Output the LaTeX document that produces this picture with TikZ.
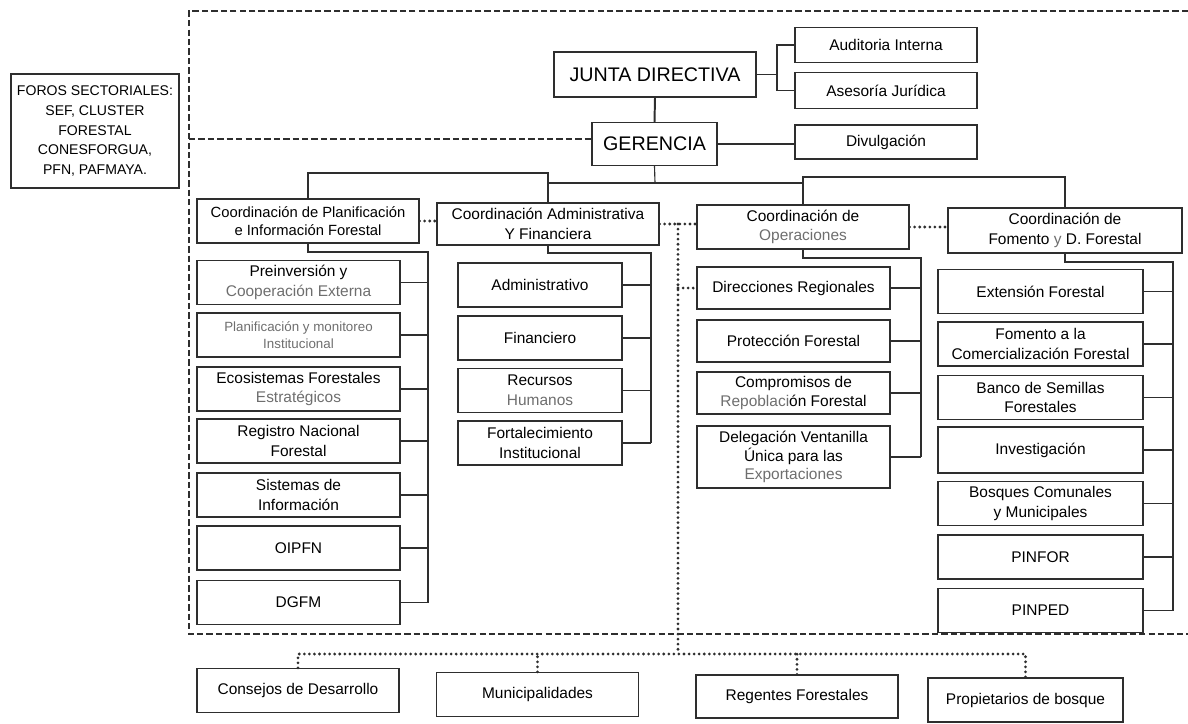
\documentclass[tikz,border=0pt]{standalone}
\usepackage{fontspec}
\setmainfont{Liberation Sans}
\usepackage{xcolor}
\usepackage{tikz}
\definecolor{OrgLine}{HTML}{2E2E2E}
\definecolor{OrgFade}{HTML}{6E6E6E}

\begin{document}
\begin{tikzpicture}[x=0.025cm,y=-0.025cm,
  box/.style={draw=OrgLine,line width=0.8pt,align=center,inner sep=1pt,font=\fontsize{11}{14}\selectfont},
  leftbox/.style={box,minimum width=5.075cm,minimum height=1.1cm},
  admbox/.style={box,minimum width=4.1cm,minimum height=1.1cm},
  opbox/.style={box,minimum width=4.825cm,minimum height=1.05cm},
  fombox/.style={box,minimum width=5.125cm,minimum height=1.1cm},
  sidebox/.style={box,minimum width=4.55cm,minimum height=0.88cm},
  basebox/.style={box,minimum width=5.05cm,minimum height=1.1cm},
  link/.style={draw=OrgLine,line width=0.8pt},
  mainlink/.style={draw=OrgLine,line width=1.4pt},
  arealine/.style={draw=OrgLine,line width=1.4pt,dash pattern=on 4.5pt off 2.2pt},
  dotline/.style={draw=OrgLine,line width=2.2pt,line cap=round,dash pattern=on 0pt off 3.6pt}]
\path[use as bounding box] (0,0) rectangle (1188,723);
% top of the chart
\node[box,minimum width=5.05cm,minimum height=1.125cm,font=\fontsize{14}{16}\selectfont] (junta) at (655,74.5) {JUNTA DIRECTIVA};
\node[sidebox] (audit) at (886,45) {Auditoria Interna};
\node[sidebox] (asesor) at (886,90.5) {Asesoría Jurídica};
\node[box,minimum width=3.125cm,minimum height=1.075cm,font=\fontsize{14}{16}\selectfont] (geren) at (654.5,144) {GERENCIA};
\node[sidebox,minimum height=0.85cm] (divul) at (886,142) {Divulgación};
\node[box,minimum width=4.2cm,minimum height=2.85cm,font=\fontsize{10}{14}\selectfont] (foros) at (95,131) {FOROS SECTORIALES:\\SEF, CLUSTER\\FORESTAL\\CONESFORGUA,\\PFN, PAFMAYA.};
% coordinaciones
\node[box,minimum width=5.55cm,minimum height=1.1cm,font=\fontsize{10.5}{13}\selectfont] (plan) at (308,221) {Coordinación de Planificación\\e Información Forestal};
\node[box,minimum width=5.55cm,minimum height=1.05cm] (admin) at (548,224) {Coordinación Administrativa\\Y Financiera};
\node[box,minimum width=5.3cm,minimum height=1.1cm] (oper) at (803,227) {Coordinación de\\{\color{OrgFade}Operaciones}};
\node[box,minimum width=5.85cm,minimum height=1.125cm] (foment) at (1065,230.5) {Coordinación de\\Fomento {\color{OrgFade}y} D. Forestal};
% planificacion column
\node[leftbox] (prein) at (298.5,282.5) {Preinversión y\\{\color{OrgFade}Cooperación Externa}};
\node[leftbox,font=\fontsize{9.5}{12}\selectfont,text=OrgFade] (planmon) at (298.5,335) {Planificación y monitoreo\\Institucional};
\node[leftbox] (ecosis) at (298.5,389) {Ecosistemas Forestales\\{\color{OrgFade}Estratégicos}};
\node[leftbox] (registro) at (298.5,441) {Registro Nacional\\Forestal};
\node[leftbox] (sistemas) at (298.5,495) {Sistemas de\\Información};
\node[leftbox] (oipfn) at (298.5,548) {OIPFN};
\node[leftbox] (dgfm) at (298.5,602.5) {DGFM};
% administrativa column
\node[admbox] (admtvo) at (540,285) {Administrativo};
\node[admbox] (financ) at (540,338) {Financiero};
\node[admbox] (rrhh) at (540,390.5) {Recursos\\{\color{OrgFade}Humanos}};
\node[admbox] (fortal) at (540,443) {Fortalecimiento\\Institucional};
% operaciones column
\node[opbox] (direcc) at (793.5,288) {Direcciones Regionales};
\node[opbox] (protec) at (793.5,341) {Protección Forestal};
\node[opbox] (comprom) at (793.5,393) {Compromisos de\\{\color{OrgFade}Repoblaci}ón Forestal};
\node[opbox,minimum height=1.55cm,font=\fontsize{11}{13}\selectfont] (delega) at (793.5,457) {Delegación Ventanilla\\Única para las\\{\color{OrgFade}Exportaciones}};
% fomento column
\node[fombox] (extens) at (1040.5,291.5) {Extensión Forestal};
\node[fombox] (fomcom) at (1040.5,344) {Fomento a la\\Comercialización Forestal};
\node[fombox] (banco) at (1040.5,397.5) {Banco de Semillas\\Forestales};
\node[fombox,minimum height=1.15cm] (investig) at (1040.5,450) {Investigación};
\node[fombox] (bosques) at (1040.5,503.5) {Bosques Comunales\\y Municipales};
\node[fombox] (pinfor) at (1040.5,557) {PINFOR};
\node[fombox] (pinped) at (1040.5,610.5) {PINPED};
% outside actors
\node[basebox] (consejos) at (298,690.5) {Consejos de Desarrollo};
\node[basebox] (munic) at (537.5,694.5) {Municipalidades};
\node[basebox,minimum height=1.075cm] (regentes) at (797,696.5) {Regentes Forestales};
\node[basebox,minimum width=4.875cm] (propiet) at (1025.5,700) {Propietarios de bosque};
% solid lines
\coordinate (jbus) at (777,74.5);
\draw[link] (junta.east) -- (jbus);
\draw[link] (audit.west) -| (jbus) |- (asesor.west);
\draw[mainlink] (junta.south) -- (geren.north);
\draw[mainlink] (geren.east) -- (geren.east -| divul.west);
\coordinate (gbus) at (655,183);
\coordinate (lbus) at (548,173);
\coordinate (rbus) at (803,177);
\draw[link] (geren.south) -- (gbus);
\draw[link] (gbus -| admin.north) -- (gbus -| oper.north);
\draw[link] (plan.north) |- (lbus) -- (admin.north);
\draw[link] (foment.north) |- (rbus) -- (oper.north);
\coordinate (planbus) at (428,252);
\draw[link] (plan.south) |- (planbus) -- (planbus |- dgfm.east);
\draw[link] (prein.east) -- (prein.east -| planbus);
\draw[link] (planmon.east) -- (planmon.east -| planbus);
\draw[link] (ecosis.east) -- (ecosis.east -| planbus);
\draw[link] (registro.east) -- (registro.east -| planbus);
\draw[link] (sistemas.east) -- (sistemas.east -| planbus);
\draw[link] (oipfn.east) -- (oipfn.east -| planbus);
\draw[link] (dgfm.east) -- (dgfm.east -| planbus);
\coordinate (admbus) at (651,253);
\draw[link] (admin.south) |- (admbus) -- (admbus |- fortal.east);
\draw[link] (admtvo.east) -- (admtvo.east -| admbus);
\draw[link] (financ.east) -- (financ.east -| admbus);
\draw[link] (rrhh.east) -- (rrhh.east -| admbus);
\draw[link] (fortal.east) -- (fortal.east -| admbus);
\coordinate (opbus) at (921,258);
\draw[link] (oper.south) |- (opbus) -- (opbus |- delega.east);
\draw[link] (direcc.east) -- (direcc.east -| opbus);
\draw[link] (protec.east) -- (protec.east -| opbus);
\draw[link] (comprom.east) -- (comprom.east -| opbus);
\draw[link] (delega.east) -- (delega.east -| opbus);
\coordinate (fombus) at (1173,262);
\draw[link] (foment.south) |- (fombus) -- (fombus |- pinped.east);
\draw[link] (extens.east) -- (extens.east -| fombus);
\draw[link] (fomcom.east) -- (fomcom.east -| fombus);
\draw[link] (banco.east) -- (banco.east -| fombus);
\draw[link] (investig.east) -- (investig.east -| fombus);
\draw[link] (bosques.east) -- (bosques.east -| fombus);
\draw[link] (pinfor.east) -- (pinfor.east -| fombus);
\draw[link] (pinped.east) -- (pinped.east -| fombus);
% dotted coordination lines
\coordinate (lowbus) at (678,654);
\draw[dotline] (plan.east) -- (plan.east -| admin.west);
\draw[dotline] (admin.east) -- (admin.east -| oper.west);
\draw[dotline] (oper.east) -- (oper.east -| foment.west);
\draw[dotline] (admin.east -| lowbus) -- (lowbus);
\draw[dotline] (direcc.west -| lowbus) -- (direcc.west);
\draw[dotline] (consejos.north) |- (lowbus) -| (propiet.north);
\draw[dotline] (munic.north) -- (munic.north |- lowbus);
\draw[dotline] (regentes.north) -- (regentes.north |- lowbus);
% dashed area
\draw[arealine] (1188,11) -- (189,11) -- (189,634) -- (1188,634);
\coordinate (areacut) at (189,139);
\draw[arealine] (areacut) -- (areacut -| geren.west);
\end{tikzpicture}
\end{document}
